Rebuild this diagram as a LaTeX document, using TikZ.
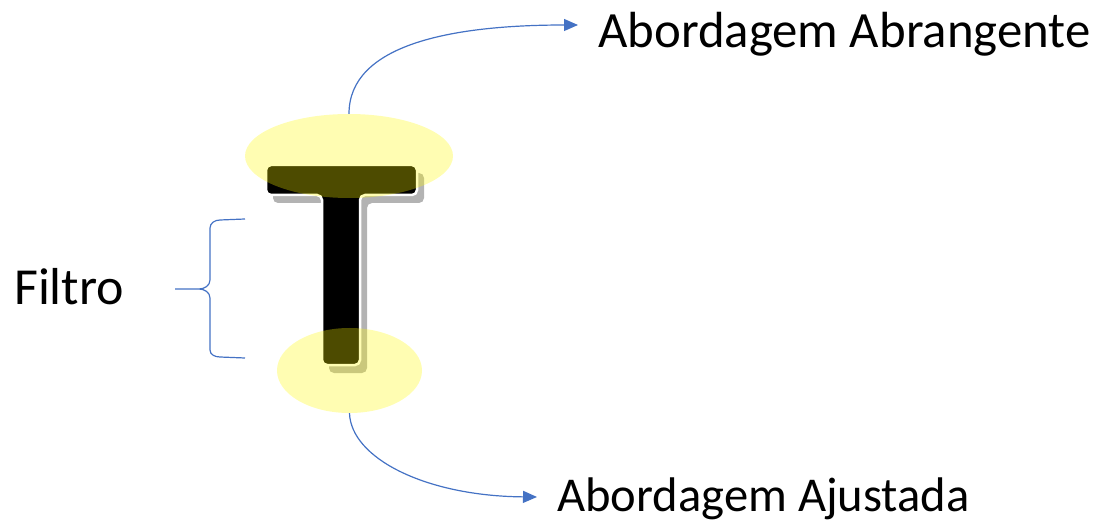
\documentclass[tikz,border=0pt]{standalone}
\usepackage{fontspec}
\setmainfont{Carlito}
\usetikzlibrary{shapes.geometric,arrows.meta}
\definecolor{obl}{RGB}{68,114,196}
\definecolor{hl}{RGB}{255,250,0}
\begin{document}
\begin{tikzpicture}[x=1pt,y=-1pt,
  conn/.style={draw=obl,line width=1.2pt,-{Triangle[length=14pt,width=12pt]}},
  bracestyle/.style={draw=obl,line width=1.2pt},
  hlell/.style={ellipse,fill=hl,fill opacity=0.3,inner sep=0,draw=none},
  lbl/.style={anchor=base west,inner sep=0,text=black}]
\useasboundingbox (0,0) rectangle (1106,521);
% shadow of the T
\fill[black!50,opacity=0.6,rounded corners=5pt,shift={(7,8)}]
  (266,165) -- (417,165) -- (417,195) -- (360,195) -- (360,365) -- (322,365) -- (322,195) -- (266,195) -- cycle;
% the T
\draw[white,line width=2.5pt,fill=black,rounded corners=5pt]
  (266,165) -- (417,165) -- (417,195) -- (360,195) -- (360,365) -- (322,365) -- (322,195) -- (266,195) -- cycle;
% highlight ellipses
\node[hlell,minimum width=208pt,minimum height=84pt] (topell) at (349,156) {};
\node[hlell,minimum width=145pt,minimum height=85pt] (botell) at (349.5,370.5) {};
% labels
\node[lbl,font=\fontsize{50.8}{60}\selectfont] (toptxt) at (598,48) {Abordagem Abrangente};
\node[lbl,font=\fontsize{48.6}{58}\selectfont] (bottxt) at (557,511) {Abordagem Ajustada};
\node[lbl,font=\fontsize{52}{62}\selectfont] (filtro) at (14,305) {Filtro};
% arrows
\coordinate (toptip) at (578,25);
\coordinate (bottip) at (537,497);
\draw[conn] (topell.north) .. controls (349,45) and (450,25) .. (toptip);
\draw[conn] (botell.south) .. controls (351,458) and (425,496) .. (bottip);
% brace
\coordinate (bracetop) at (245,219);
\coordinate (bracetip) at (175,289);
\coordinate (bracebot) at (245,358);
\draw[bracestyle] (bracetop) -- (220,220) to[out=180,in=90] (210,228) -- (210,280)
  to[out=-90,in=0] (199,289) -- (bracetip) -- (199,289) to[out=0,in=90] (210,298) -- (210,350)
  to[out=-90,in=180] (220,357) -- (bracebot);
\end{tikzpicture}
\end{document}
